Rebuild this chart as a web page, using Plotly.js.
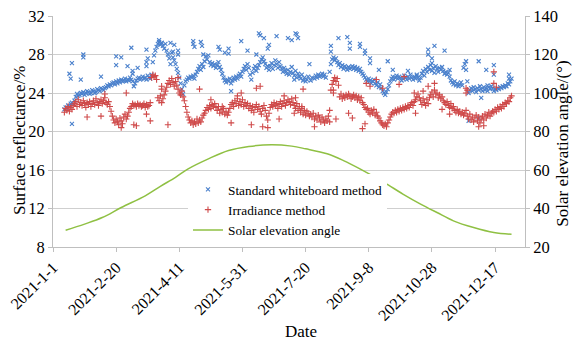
<!DOCTYPE html>
<html>
<head>
<meta charset="utf-8">
<script src="https://cdn.plot.ly/plotly-3.0.1.min.js"></script>
<style>html,body{margin:0;padding:0;background:#fff;}#chart{width:574px;height:343px;}</style>
</head>
<body>
<div id="chart"></div>
<script>
// ---- data ----
const seriesNames = ["Standard whiteboard method", "Irradiance method", "Solar elevation angle"];
const axisTitles = { x: "Date", y: "Surface reflectance/%", y2: "Solar elevation angle/(°)" };
const tickStart = "2021-01-01";          // first date tick; ticks every 50 days
const firstDay = 9;                      // day offset (from 2021-01-01) of first daily value

// Standard whiteboard method, one value per day from firstDay
const blueDaily = [
  22.3,22.5,22.4,22.7,22.6,22.9,23.0,22.8,
  23.2,23.6,23.9,23.7,
  23.8,24.0,23.9,24.1,23.8,24.0,24.2,24.1,23.9,24.0,24.3,24.2,24.0,24.1,24.4,24.3,24.2,24.5,24.4,24.3,
  24.5,24.6,24.8,24.7,24.9,24.8,25.0,25.1,24.9,25.2,25.0,25.3,25.1,25.4,25.2,25.3,25.5,25.2,25.4,25.3,25.6,
  25.4,25.2,24.7,25.0,25.3,25.5,25.6,25.4,25.5,25.7,25.5,25.6,25.4,25.8,25.6,25.5,25.9,
  27.2,27.9,28.4,28.8,29.1,29.3,29.0,29.2,28.9,28.6,29.1,28.4,28.0,27.6,
  27.0,28.2,27.7,27.4,27.0,26.5,26.1,25.6,25.0,24.4,23.9,
  24.8,25.2,25.4,25.6,25.5,25.7,25.6,25.8,25.5,25.9,26.2,
  26.5,26.8,26.4,27.0,26.7,27.3,27.8,27.5,27.9,27.2,26.9,27.1,26.8,27.0,26.6,26.9,27.2,26.7,26.4,26.0,25.6,
  25.3,25.1,25.4,25.2,25.5,25.0,25.3,25.6,25.4,25.7,25.5,25.8,26.0,25.7,
  26.2,26.5,26.8,26.4,27.0,26.6,25.9,25.4,26.1,26.5,26.8,26.3,26.6,26.9,27.2,27.5,27.7,27.3,27.0,26.6,26.8,26.4,
  26.8,27.1,26.5,26.9,27.4,27.0,26.6,27.2,26.8,26.5,26.2,26.6,26.3,26.0,26.4,25.9,26.2,26.7,26.1,25.8,26.3,25.6,26.0,25.7,
  25.5,25.9,25.3,25.6,25.2,
  25.4,25.7,null,25.3,25.6,null,25.5,25.8,25.6,25.9,25.7,25.8,26.0,25.7,25.9,25.6,null,null,26.2,
  27.0,27.5,27.7,27.4,27.6,27.2,26.9,27.1,26.7,26.9,26.5,26.8,26.6,26.4,26.7,26.5,
  26.6,26.8,26.5,26.7,26.4,26.6,26.3,26.5,26.2,26.0,25.8,25.6,25.4,25.2,25.5,25.3,25.0,25.2,
  25.4,25.0,24.8,25.1,24.6,24.9,24.5,24.2,24.0,23.8,24.1,24.4,24.8,
  25.2,25.5,25.7,25.4,25.6,25.8,25.5,25.7,25.6,25.3,25.5,25.8,25.6,25.4,25.7,25.5,25.9,25.6,25.4,25.7,25.5,25.8,25.6,25.3,
  25.6,26.0,26.3,25.8,26.5,26.2,26.7,26.4,26.9,26.3,26.6,26.1,26.8,26.5,26.2,26.6,26.4,26.7,
  26.3,26.0,26.2,25.9,26.1,25.7,
  25.3,25.1,24.9,25.2,24.8,25.0,24.7,24.9,25.1,24.8,26.6,27.0,26.4,25.2,
  24.0,24.3,24.5,24.2,24.6,24.4,24.1,24.5,24.3,24.7,24.4,24.2,24.6,24.3,24.5,24.8,24.6,24.4,24.7,24.5,
  24.2,24.4,24.3,24.5,24.4,24.6,24.5,24.7,24.6,24.8,24.7,25.0,24.9,25.2,25.5
];
// extra (scattered) whiteboard readings: day offset and value
const blueExtraDay = [13,14,15,15,24,24,22,38,50,50,54,59,62,63,63,67,74,74,74,75,84,86,95,96,93,99,99,111,111,112,117,118,119,131,132,136,139,139,141,149,154,161,163,164,167,170,171,177,186,189,192,191,193,194,203,226,233,220,220,235,235,243,243,247,247,251,251,258,265,269,281,288,297,297,300,300,302,310,314,327,337,343,349,349,361,361,329,337,339,344];
const blueExtraVal = [26.0,25.5,27.1,20.8,28.0,27.7,25.4,25.7,27.8,26.9,27.7,26.8,28.7,26.3,26.0,26.6,28.5,27.2,26.8,27.6,29.5,29.2,28.3,29.0,29.2,28.4,28.0,29.4,29.1,28.8,29.3,28.9,28.0,28.8,28.5,28.2,28.6,28.1,24.2,29.4,28.4,28.0,30.2,30.0,29.7,28.6,29.0,29.9,29.7,29.5,30.2,25.4,30.1,29.7,27.0,29.7,29.8,28.9,28.3,29.2,28.6,29.1,28.8,28.4,28.1,27.6,27.1,26.4,27.3,26.4,26.3,25.9,28.5,28.0,27.6,27.1,28.9,28.4,26.4,27.3,27.3,26.4,26.9,25.9,25.9,25.5,21.1,21.4,23.5,24.2];

// Irradiance method, one value per day from firstDay
const redDaily = [
  22.0,22.4,22.2,22.6,22.1,22.5,22.3,22.7,
  22.9,23.1,22.6,23.3,22.8,23.0,22.7,23.2,22.9,22.5,23.0,22.8,23.1,22.6,22.9,
  23.2,22.8,23.4,23.0,22.7,23.1,23.3,22.9,23.2,23.5,23.0,22.8,23.1,22.6,
  22.1,21.6,21.2,20.9,21.3,21.0,20.7,21.4,21.1,20.8,21.5,21.8,21.3,21.6,22.0,22.4,
  22.6,22.9,22.7,22.8,22.6,22.9,22.7,22.8,22.6,22.7,22.9,22.5,22.8,22.6,22.7,23.0,
  25.6,25.9,25.7,25.8,25.4,
  23.5,23.2,23.7,23.0,23.4,23.8,24.2,24.6,25.0,
  25.3,24.9,25.5,25.1,24.7,25.2,24.8,24.4,24.0,
  23.8,24.2,23.6,23.2,22.6,22.0,21.5,
  21.2,20.9,21.1,20.7,21.0,20.8,21.3,20.9,21.2,21.0,21.4,21.7,
  21.9,22.2,22.5,22.3,22.7,22.4,22.8,22.6,22.9,22.5,
  22.2,22.6,21.9,22.3,22.0,22.4,21.8,22.1,21.7,22.0,22.4,
  22.8,23.0,22.6,23.2,22.9,23.4,22.7,23.1,22.8,23.3,22.6,23.0,22.7,
  22.9,22.4,22.7,22.2,22.6,22.0,22.5,22.8,22.3,22.6,22.1,21.8,22.4,22.7,22.2,21.6,21.2,21.9,
  22.5,22.8,22.6,23.0,22.7,22.9,22.4,22.8,23.1,22.6,22.9,23.2,22.7,23.0,23.3,23.1,22.8,23.4,23.0,22.7,22.4,22.9,22.2,22.6,
  22.0,22.4,21.8,22.2,21.7,22.1,21.9,21.6,
  21.8,21.5,21.9,21.3,21.6,21.2,21.7,21.4,21.0,21.5,21.2,20.9,21.3,21.1,21.6,22.2,
  24.3,24.9,25.3,25.6,25.2,25.5,24.8,
  23.6,23.9,23.4,23.7,23.5,23.8,23.6,23.9,23.7,23.4,23.6,23.8,23.5,23.7,23.3,23.6,23.2,23.5,23.0,22.8,22.5,22.3,
  22.4,22.0,21.8,22.2,21.9,22.3,21.7,22.0,21.6,21.4,21.1,20.9,20.7,
  20.6,20.8,20.5,20.9,21.2,
  21.5,21.8,22.0,21.9,22.2,22.0,22.3,22.1,22.4,22.2,22.5,22.3,22.6,22.4,22.7,22.5,22.8,23.0,22.7,23.1,23.3,23.6,23.9,23.5,
  23.2,22.8,23.4,23.0,22.7,23.3,22.9,23.5,
  23.8,24.1,23.6,24.3,23.9,24.0,23.5,23.8,23.4,23.6,
  23.2,23.0,22.8,23.1,22.7,22.5,22.9,22.4,22.6,22.2,22.0,22.3,21.9,22.1,21.8,22.0,21.7,21.9,22.2,
  21.6,21.3,21.8,21.2,21.5,21.0,21.4,21.7,21.1,21.5,20.9,21.3,21.6,21.2,21.8,21.4,21.7,22.0,21.6,21.9,22.1,
  22.0,22.3,22.1,22.5,22.3,22.6,22.4,22.8,22.6,23.0,22.9,23.2,23.1,23.5,23.7
];
const redExtraDay = [27,38,54,64,66,74,77,91,86,86,58,41,99,116,125,134,141,146,149,157,161,164,166,170,179,183,192,191,197,198,207,219,222,222,224,234,237,245,247,248,251,256,261,274,278,286,287,293,297,302,308,314,327,327,328,337,341,349,349,351];
const redExtraVal = [21.5,21.6,20.4,20.7,20.6,21.8,21.1,20.7,24.7,24.4,24.0,23.9,25.6,24.4,23.3,22.6,20.9,23.7,24.0,20.7,24.5,24.7,20.5,20.4,21.3,23.7,23.5,21.9,22.6,24.4,20.5,21.0,24.3,24.0,21.3,21.9,21.4,20.3,20.8,25.0,24.7,25.4,24.5,24.9,25.7,24.0,21.9,24.2,24.7,25.0,22.3,21.8,24.5,24.0,24.3,20.5,20.6,26.2,25.0,24.6];

// Solar elevation angle (right axis)
const elevDay = [10,25,39,54,73,85,97,107,123,139,155,173,189,200,217,230,243,262,277,291,304,317,333,349,363];
const elevVal = [28.7,31.9,35.3,40.5,46.6,51.5,56.2,60.6,65.8,70.1,72.2,73.1,72.4,71.0,68.4,64.9,60.6,53.6,47.5,42.3,37.9,33.6,30.1,27.5,26.6];

// ---- helpers ----
const DAY = 86400000;
const t0 = Date.UTC(2021, 0, 1);
function dayToDate(d) { return new Date(t0 + d * DAY).toISOString().slice(0, 10); }

const bx = [], by = [];
blueDaily.forEach((v, i) => { if (v !== null) { bx.push(dayToDate(firstDay + i)); by.push(v); } });
blueExtraDay.forEach((d, i) => { bx.push(dayToDate(d)); by.push(blueExtraVal[i]); });
const rx = [], ry = [];
redDaily.forEach((v, i) => { if (v !== null) { rx.push(dayToDate(firstDay + i)); ry.push(v); } });
redExtraDay.forEach((d, i) => { rx.push(dayToDate(d)); ry.push(redExtraVal[i]); });

const FONT = "Liberation Serif";
const AXC = "#bfbfbf";

const traces = [
  { type: "scatter", mode: "markers", name: seriesNames[0], x: bx, y: by,
    marker: { symbol: "x-thin-open", size: 4, color: "#4a80cc", line: { width: 1.1, color: "#4a80cc" } } },
  { type: "scatter", mode: "markers", name: seriesNames[1], x: rx, y: ry,
    marker: { symbol: "cross-thin-open", size: 4.5, color: "#cf4a4a", line: { width: 1.1, color: "#cf4a4a" } } },
  { type: "scatter", mode: "lines", name: seriesNames[2], x: elevDay.map(dayToDate), y: elevVal, yaxis: "y2",
    line: { color: "#8fc043", width: 1.5, shape: "spline", smoothing: 1 } }
];

const titleFont = { family: FONT, size: 17, color: "#000" };

const layout = {
  width: 574, height: 343,
  margin: { l: 53, r: 49, t: 16, b: 96 },
  paper_bgcolor: "#fff", plot_bgcolor: "#fff",
  font: { family: FONT, size: 16, color: "#000" },
  showlegend: true,
  legend: { x: 0.286, y: 0.315, xanchor: "left", yanchor: "top", bgcolor: "#fff",
            font: { family: FONT, size: 13.3, color: "#000" }, tracegroupgap: 0, itemwidth: 30 },
  xaxis: {
    type: "date", range: ["2021-01-01", "2022-01-09 16:00"],
    tick0: tickStart, dtick: 50 * DAY, tickformat: "%Y-%-m-%-d", tickangle: -45,
    showgrid: false, zeroline: false, showline: true, linecolor: AXC, linewidth: 1,
    ticks: "outside", ticklen: 4, tickcolor: AXC, tickfont: { family: FONT, size: 16 }
  },
  yaxis: {
    range: [8, 32], dtick: 4, tick0: 8,
    showgrid: true, gridcolor: "#cfcfcf", gridwidth: 1, zeroline: false,
    showline: true, linecolor: AXC, ticks: "outside", ticklen: 4, tickcolor: AXC,
    tickfont: { family: FONT, size: 16.5 }
  },
  yaxis2: {
    range: [20, 140], dtick: 20, tick0: 20, overlaying: "y", side: "right",
    showgrid: false, zeroline: false, showline: true, linecolor: AXC,
    ticks: "outside", ticklen: 4, tickcolor: AXC, tickfont: { family: FONT, size: 16.5 }
  },
  annotations: [
    { text: axisTitles.x, xref: "paper", yref: "paper", x: 0.526, y: -0.364,
      xanchor: "center", yanchor: "middle", showarrow: false, font: titleFont },
    { text: axisTitles.y, xref: "paper", yref: "paper", x: -0.071, y: 0.465, textangle: -90,
      xanchor: "center", yanchor: "middle", showarrow: false, font: titleFont },
    { text: axisTitles.y2, xref: "paper", yref: "paper", x: 1.08, y: 0.446, textangle: -90,
      xanchor: "center", yanchor: "middle", showarrow: false, font: titleFont }
  ]
};

Plotly.newPlot("chart", traces, layout, { displayModeBar: false, staticPlot: true });
</script>
</body>
</html>
